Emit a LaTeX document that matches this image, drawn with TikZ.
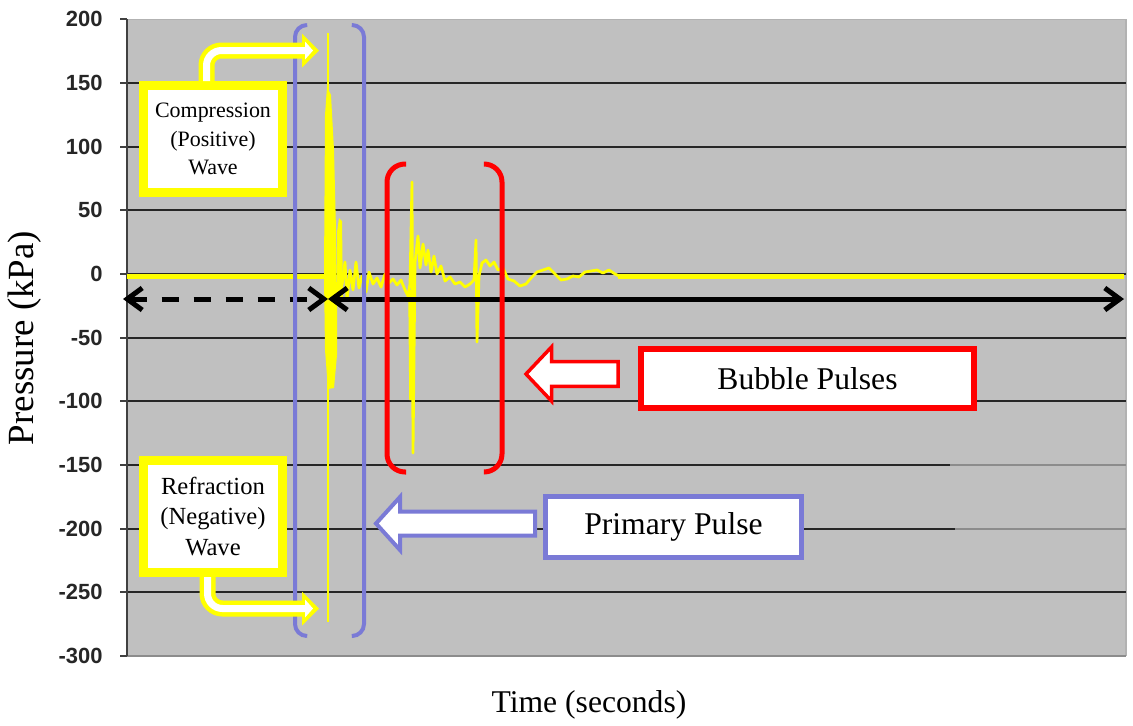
\documentclass[tikz,border=0pt]{standalone}
\usepackage{fontspec}
\setmainfont{Liberation Serif}
\newfontfamily\ticksfont{Liberation Sans}
\usetikzlibrary{arrows.meta}

\definecolor{chartgray}{RGB}{192,192,192}
\definecolor{signalyellow}{RGB}{255,255,0}
\definecolor{primaryblue}{RGB}{122,122,214}
\definecolor{bubblered}{RGB}{255,0,0}

\tikzset{
  grid line/.style={black!85, line width=0.45mm},
  tick label/.style={anchor=east, inner sep=0pt, text=black!85, font=\ticksfont\bfseries\fontsize{12.5}{14}\selectfont},
  wave trace/.style={signalyellow, line width=0.55mm, line join=round},
  zero trace/.style={signalyellow, line width=0.9mm},
  time axis/.style={line width=1mm, {Straight Barb[length=3mm,width=4.4mm]}-{Straight Barb[length=3mm,width=4.4mm]}},
  pulse bracket/.style={line width=#1, rounded corners=2.4mm},
  wave box/.style={draw=signalyellow, fill=white, line width=1.8mm, align=center, inner sep=0pt, minimum width=27.8mm},
  pulse box/.style={fill=white, inner sep=0pt, font=\fontsize{18}{20}\selectfont},
  outer shaft/.style={signalyellow, line width=3.2mm, rounded corners=3mm},
  inner shaft/.style={white, line width=1.4mm, rounded corners=3mm},
}

\begin{document}
\begin{tikzpicture}[x=0.2mm, y=-0.2mm]
\useasboundingbox (0,0) rectangle (1133,725);

% chart area and grid
\fill[chartgray] (127,19.3) rectangle (1126,656);
\draw[black!30, line width=0.3mm] (127,19.3) -- (1126,19.3) -- (1126,656);
\draw[black!45, line width=0.4mm] (127,656) -- (1126,656);
\foreach \v in {200,150,...,-300} {
  \pgfmathsetmacro\gy{274-1.2733*\v}
  \ifnum\v<200 \ifnum\v>-300
    \draw[grid line] (127,\gy) -- (1126,\gy);
  \fi\fi
  \draw[black!75, line width=0.4mm] (120,\gy) -- (127,\gy);
  \node[tick label] (tick\v) at (103,\gy) {\v};
}
\draw[black!45, line width=0.45mm] (950,465) -- (1126,465);
\draw[black!45, line width=0.45mm] (955,528.7) -- (1126,528.7);
\draw[black!75, line width=0.4mm] (127,19.3) -- (127,656);

% pressure trace
\draw[zero trace] (127,276.5) -- (326,276.5);
\draw[zero trace] (618,276.5) -- (1124,276.5);
\fill[signalyellow] (324,276) -- (325,115) -- (327,87) -- (331,95) -- (334,150) -- (336,230) -- (337,300)
  -- (337,355) -- (334,388) -- (328,389) -- (325,350) -- cycle;
\draw[wave trace, line width=0.4mm] (328,33) -- (328,622);
\fill[signalyellow] (337,300) -- (337,232) -- (339,218) -- (342,221) -- (343,300) -- cycle;
\draw[wave trace] (342,285) -- (345,262) -- (347,300) -- (350,270) -- (353,290) -- (356,262) -- (359,288)
  -- (362,276) -- (366,292) -- (369,272) -- (373,284) -- (377,278) -- (381,287) -- (385,274) -- (389,283)
  -- (393,279) -- (397,285) -- (401,280) -- (405,290) -- (408,296) -- (410,284) -- (412,182) -- (413,453)
  -- (415,262) -- (418,236) -- (420,268) -- (423,244) -- (426,265) -- (428,250) -- (431,272) -- (434,256)
  -- (437,274) -- (441,266) -- (445,281) -- (450,277) -- (455,284) -- (460,282) -- (465,287) -- (470,284)
  -- (474,280) -- (476,240) -- (477,342) -- (479,276) -- (482,263) -- (486,260) -- (490,266) -- (494,262)
  -- (498,270) -- (503,268) -- (508,279) -- (514,281) -- (520,286) -- (526,284) -- (531,278) -- (537,272)
  -- (543,270) -- (549,268) -- (555,274) -- (561,280) -- (567,279) -- (573,276) -- (579,277) -- (585,272)
  -- (591,271) -- (597,270) -- (603,273) -- (609,270) -- (615,274) -- (620,276.5);
\draw[wave trace, line width=0.7mm] (410,290) -- (411,400);

% time markers
\coordinate (t0) at (123,299);
\coordinate (tburst) at (328,299);
\coordinate (t1) at (1124,299);
\draw[time axis, dash pattern=on 3.4mm off 3mm] (t0) -- (tburst);
\draw[time axis] (tburst) -- (t1);

% brackets round the pulses
\draw[primaryblue, pulse bracket=0.8mm] (307,25) -- (295,25) -- (295,636) -- (307,636);
\draw[primaryblue, pulse bracket=0.8mm] (352,25) -- (364,25) -- (364,636) -- (352,636);
\draw[bubblered, pulse bracket=1mm, rounded corners=3.6mm] (406,164) -- (387,164) -- (387,472) -- (406,472);
\draw[bubblered, pulse bracket=1mm, rounded corners=3.6mm] (484,164) -- (502,164) -- (502,472) -- (484,472);

% labels
\node[pulse box, draw=bubblered, line width=1.2mm, minimum width=66.6mm, minimum height=11.8mm] (bubble) at (807.5,378.5) {Bubble Pulses};
\node[pulse box, draw=primaryblue, line width=1mm, minimum width=51.2mm, minimum height=12.2mm] (primary) at (673.5,527) {Primary Pulse};

\draw[bubblered, line width=0.7mm, fill=white, shift={(bubble.west)}] (-112,-4.5) -- (-86.5,-31.5) -- (-86.5,-16.8)
  -- (-20,-16.8) -- (-20,7.8) -- (-86.5,7.8) -- (-86.5,22.5) -- cycle;
\draw[primaryblue, line width=0.8mm, fill=white, shift={(primary.west)}] (-167,-3.5) -- (-143,-30) -- (-143,-15.5)
  -- (-8,-15.5) -- (-8,8.5) -- (-143,8.5) -- (-143,23) -- cycle;

\node[wave box, minimum height=21.4mm, font=\fontsize{12.5}{16}\selectfont] (comp) at (213,139) {Compression\\(Positive)\\Wave};
\node[wave box, minimum height=22.4mm, font=\fontsize{14}{17.6}\selectfont] (refr) at (213,516.5) {Refraction\\(Negative)\\Wave};

\coordinate (comptip) at (303,50.5);
\coordinate (refrtip) at (303,608.5);
\draw[outer shaft] ([xshift=-1.3mm]comp.north) |- (comptip);
\fill[signalyellow, shift={(comptip)}] (-1,-17) -- (16,0) -- (-1,17) -- cycle;
\draw[inner shaft] ([xshift=-1.3mm]comp.north) |- ([xshift=0.8mm]comptip);
\fill[white, shift={(comptip)}] (2,-9) -- (10,0) -- (2,9) -- cycle;
\draw[outer shaft] ([xshift=-1.1mm]refr.south) |- (refrtip);
\fill[signalyellow, shift={(refrtip)}] (-1,-17) -- (16,0) -- (-1,17) -- cycle;
\draw[inner shaft] ([xshift=-1.1mm]refr.south) |- ([xshift=0.8mm]refrtip);
\fill[white, shift={(refrtip)}] (2,-9) -- (10,0) -- (2,9) -- cycle;

\node[rotate=90, font=\fontsize{21}{24}\selectfont] (ylabel) at (25,338) {Pressure (kPa)};
\node[font=\fontsize{18}{20}\selectfont] (xlabel) at (589,705) {Time (seconds)};
\end{tikzpicture}
\end{document}
